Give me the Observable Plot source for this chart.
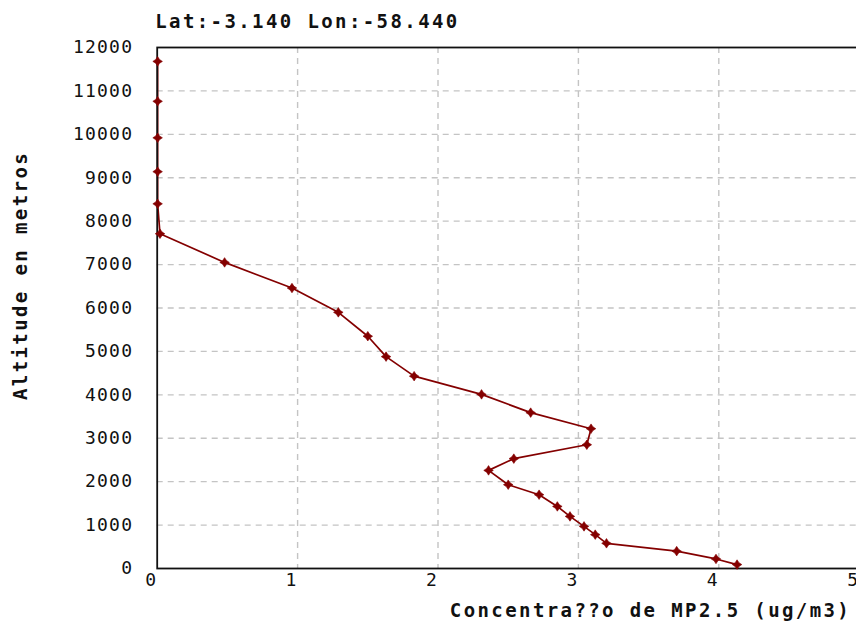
<!DOCTYPE html>
<html>
<head>
<meta charset="utf-8">
<script src="https://cdn.jsdelivr.net/npm/d3@7"></script>
<script src="https://cdn.jsdelivr.net/npm/@observablehq/plot@0.6"></script>
<style>
  html, body { margin: 0; padding: 0; background: #fff; overflow: hidden; }
</style>
</head>
<body>
<div id="chart"></div>
<script>
// Vertical profile of PM2.5 concentration at one grid point
const altitude = [11680, 10760, 9920, 9140, 8400, 7710, 7050, 6460, 5900, 5350, 4880, 4430,
                  4010, 3590, 3220, 2850, 2530, 2260, 1930, 1700, 1430, 1200, 970, 780, 580, 400, 220, 90];
const concentration = [0.003, 0.003, 0.003, 0.003, 0.003, 0.02, 0.48, 0.96, 1.29, 1.50, 1.63, 1.83,
                       2.31, 2.66, 3.09, 3.06, 2.54, 2.36, 2.50, 2.72, 2.85, 2.94, 3.04, 3.12, 3.20, 3.70, 3.98, 4.13];

const xTicks = [0, 1, 2, 3, 4, 5];
const yTicks = [0, 1000, 2000, 3000, 4000, 5000, 6000, 7000, 8000, 9000, 10000, 11000, 12000];
const xGrid = [1, 2, 3, 4];
const yGrid = [1000, 2000, 3000, 4000, 5000, 6000, 7000, 8000, 9000, 10000, 11000];

const title = "Lat:-3.140 Lon:-58.440";
const xLabel = "Concentra??o de MP2.5 (ug/m3)";
const yLabel = "Altitude en metros";

const profile = altitude.map((a, i) => ({altitude: a, concentration: concentration[i]}));

// four-pointed marker with slightly pinched sides
const starDiamond = {
  draw(context, size) {
    const a = Math.sqrt(size) * 0.9;
    const b = a * 0.4;
    context.moveTo(0, -a);
    context.lineTo(b, -b);
    context.lineTo(a, 0);
    context.lineTo(b, b);
    context.lineTo(0, a);
    context.lineTo(-b, b);
    context.lineTo(-a, 0);
    context.lineTo(-b, -b);
    context.closePath();
  }
};

const lineColor = "#840000";
const mono = "DejaVu Sans Mono";
const plain = (d) => String(d);

const chart = Plot.plot({
  width: 856,
  height: 625,
  marginLeft: 156.7,
  marginRight: -2.7,
  marginTop: 47,
  marginBottom: 57,
  style: {background: "#fff", fontFamily: mono},
  x: {domain: [0, 5]},
  y: {domain: [0, 12000]},
  marks: [
    Plot.gridX(xGrid, {stroke: "#c4c4c4", strokeOpacity: 1, strokeWidth: 1.4, strokeDasharray: "6,5"}),
    Plot.gridY(yGrid, {stroke: "#c4c4c4", strokeOpacity: 1, strokeWidth: 1.4, strokeDasharray: "6,5"}),
    Plot.axisX(xTicks, {tickSize: 0, tickPadding: 5, dx: -6, fontSize: 18, fontFamily: mono, fill: "#111", tickFormat: plain, label: null}),
    Plot.axisY(yTicks, {tickSize: 0, tickPadding: 24, fontSize: 18, fontFamily: mono, fill: "#111", tickFormat: plain, label: null}),
    Plot.line(profile, {x: "concentration", y: "altitude", stroke: lineColor, strokeWidth: 1.7}),
    Plot.frame({stroke: "#111", strokeWidth: 1.8}),
    Plot.dot(profile, {x: "concentration", y: "altitude", symbol: starDiamond, r: 3, fill: lineColor, stroke: lineColor, strokeWidth: 0.6}),
    Plot.text([title], {frameAnchor: "top-left", textAnchor: "start", lineAnchor: "middle", dx: -2, dy: -26,
      fontSize: 19, fontWeight: "bold", fontFamily: mono, fill: "#111"}),
    Plot.text([xLabel], {frameAnchor: "bottom-right", textAnchor: "end", lineAnchor: "middle", dx: -8, dy: 42,
      fontSize: 19, fontWeight: "bold", fontFamily: mono, fill: "#111"}),
    Plot.text([yLabel], {frameAnchor: "left", textAnchor: "middle", lineAnchor: "middle", rotate: -90, dx: -136.7, dy: -32.5,
      fontSize: 19, fontWeight: "bold", fontFamily: mono, fill: "#111"})
  ]
});

// wide bitmap-style lettering: extra spacing on labels and tick text
const headings = new Set([title, xLabel, yLabel]);
d3.select(chart).selectAll("text").each(function() {
  this.style.letterSpacing = headings.has(this.textContent) ? "2.4px" : "1.2px";
});

document.getElementById("chart").appendChild(chart);
</script>
</body>
</html>
